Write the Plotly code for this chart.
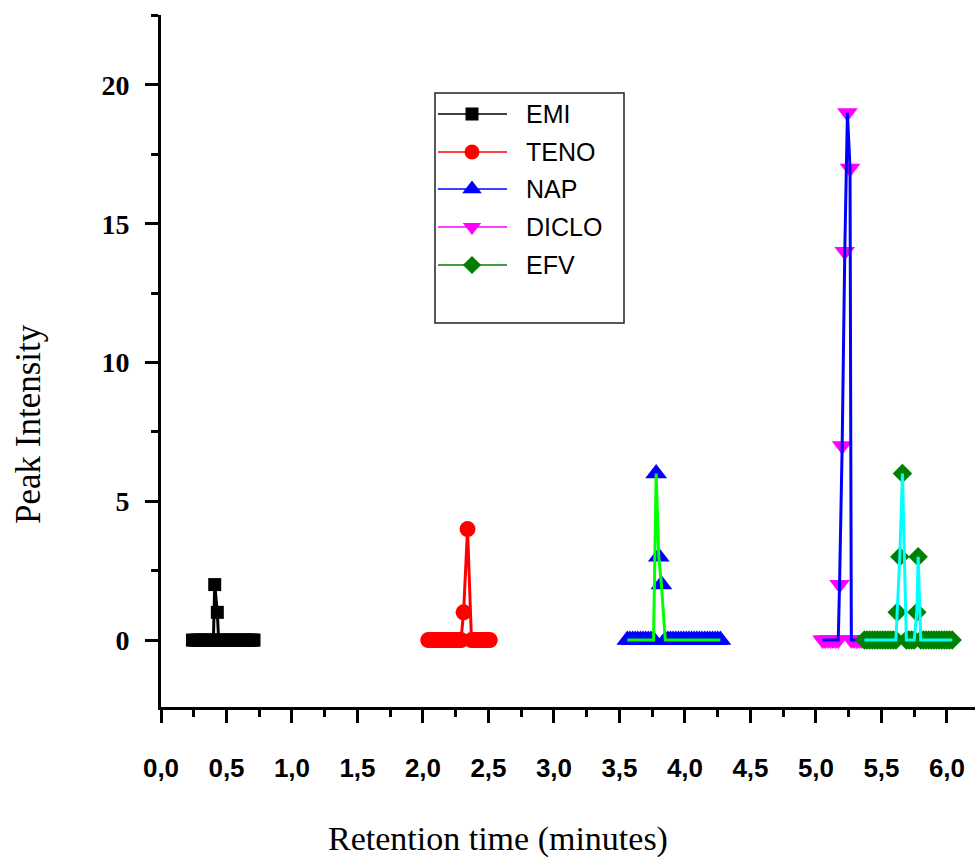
import plotly.graph_objects as go

# ---------------- data ----------------
emi_x = [0.24, 0.26, 0.28, 0.30, 0.32, 0.34, 0.36, 0.38, 0.40, 0.41, 0.43, 0.44, 0.46,
         0.48, 0.50, 0.52, 0.54, 0.56, 0.58, 0.60, 0.62, 0.64, 0.66, 0.68, 0.70, 0.71]
emi_y = [0, 0, 0, 0, 0, 0, 0, 0, 0, 2, 1, 0, 0,
         0, 0, 0, 0, 0, 0, 0, 0, 0, 0, 0, 0, 0]

teno_x = [2.04, 2.06, 2.08, 2.10, 2.12, 2.14, 2.16, 2.18, 2.20, 2.22, 2.24, 2.26, 2.28,
          2.29, 2.31, 2.34, 2.37, 2.39, 2.41, 2.43, 2.45, 2.47, 2.49, 2.51]
teno_y = [0, 0, 0, 0, 0, 0, 0, 0, 0, 0, 0, 0, 0,
          0, 1, 4, 0, 0, 0, 0, 0, 0, 0, 0]

nap_x = [3.56, 3.58, 3.60, 3.62, 3.64, 3.66, 3.68, 3.70, 3.72, 3.74, 3.76, 3.78, 3.80,
         3.82, 3.85, 3.87, 3.89, 3.91, 3.93, 3.95, 3.97, 3.99, 4.01, 4.03, 4.05, 4.07,
         4.09, 4.11, 4.13, 4.15, 4.17, 4.19, 4.21, 4.23, 4.25, 4.27]
nap_y = [0, 0, 0, 0, 0, 0, 0, 0, 0, 0, 0, 6, 3,
         2, 0, 0, 0, 0, 0, 0, 0, 0, 0, 0, 0, 0,
         0, 0, 0, 0, 0, 0, 0, 0, 0, 0]

diclo_x = [5.05, 5.07, 5.09, 5.11, 5.13, 5.15, 5.17, 5.18, 5.20, 5.22, 5.24, 5.26, 5.27,
           5.29, 5.31, 5.33, 5.35, 5.37, 5.39, 5.41, 5.43, 5.45, 5.47]
diclo_y = [0, 0, 0, 0, 0, 0, 0, 2, 7, 14, 19, 17, 0,
           0, 0, 0, 0, 0, 0, 0, 0, 0, 0]

efv_x = [5.37, 5.39, 5.41, 5.43, 5.45, 5.47, 5.49, 5.51, 5.53, 5.55, 5.57, 5.59, 5.61,
         5.62, 5.64, 5.66, 5.69, 5.71, 5.73, 5.75, 5.77, 5.78, 5.80, 5.82, 5.84, 5.86,
         5.88, 5.90, 5.92, 5.94, 5.96, 5.98, 6.00, 6.02, 6.04]
efv_y = [0, 0, 0, 0, 0, 0, 0, 0, 0, 0, 0, 0, 0,
         1, 3, 6, 0, 0, 0, 0, 1, 3, 0, 0, 0, 0,
         0, 0, 0, 0, 0, 0, 0, 0, 0]

series_names = ["EMI", "TENO", "NAP", "DICLO", "EFV"]
# ---------------- styles ----------------
marker_colors = ["#000000", "#ff0000", "#0000ff", "#ff00ff", "#008000"]
plot_line_colors = ["#000000", "#ff0000", "#00ff00", "#0000ff", "#00ffff"]
symbols = ["square", "circle", "triangle-up", "triangle-down", "diamond"]
msizes = [13, 16, 19, 18, 15]

xs = [emi_x, teno_x, nap_x, diclo_x, efv_x]
ys = [emi_y, teno_y, nap_y, diclo_y, efv_y]

fig = go.Figure()
for i in range(5):
    fig.add_trace(go.Scatter(
        x=xs[i], y=ys[i], mode="markers", showlegend=False,
        marker=dict(symbol=symbols[i], size=msizes[i], color=marker_colors[i],
                    line=dict(width=0)),
        cliponaxis=False, hoverinfo="x+y"))
    fig.add_trace(go.Scatter(
        x=xs[i], y=ys[i], mode="lines", showlegend=False,
        line=dict(color=plot_line_colors[i], width=3),
        cliponaxis=False, hoverinfo="skip"))

# ---------------- hand-drawn legend (pixel coordinate overlay) ----------------
W, H = 975, 863
ML, MR, MT, MB = 161, 0, 15, 156
leg_rows_y = [114, 152, 189, 227, 265]
leg_line_x0, leg_line_x1, leg_marker_x, leg_text_x = 438, 507, 472, 524
leg_marker_sizes = [13, 15, 17, 16, 14]


def px_to_paper(px, py):
    return (px - ML) / (W - ML - MR), (H - MB - py) / (H - MT - MB)


shapes = [dict(type="rect", xref="x2", yref="y2", x0=435, x1=624, y0=93, y1=323,
               line=dict(color="#222222", width=1.5), fillcolor="rgba(0,0,0,0)")]
annotations = []
for i, name in enumerate(series_names):
    yy = leg_rows_y[i]
    shapes.append(dict(type="line", xref="x2", yref="y2", x0=leg_line_x0, x1=leg_line_x1,
                       y0=yy, y1=yy, line=dict(color=marker_colors[i], width=1.5)))
    fig.add_trace(go.Scatter(
        x=[leg_marker_x], y=[yy], xaxis="x2", yaxis="y2", mode="markers",
        showlegend=False, hoverinfo="skip", cliponaxis=False,
        marker=dict(symbol=symbols[i], size=leg_marker_sizes[i], color=marker_colors[i],
                    line=dict(width=0))))
    annotations.append(dict(xref="x2", yref="y2", x=leg_text_x, y=yy, text=name,
                            showarrow=False, xanchor="left", yanchor="middle",
                            font=dict(family="Liberation Sans, Arial, sans-serif",
                                      size=25, color="black")))

yt_x, yt_y = px_to_paper(28, 424)
annotations.append(dict(xref="paper", yref="paper", x=yt_x, y=yt_y, text="Peak Intensity",
                        textangle=-90, showarrow=False, xanchor="center", yanchor="middle",
                        font=dict(family="Liberation Serif, Times New Roman, serif",
                                  size=35, color="black")))
xt_x, xt_y = px_to_paper(498, 839)
annotations.append(dict(xref="paper", yref="paper", x=xt_x, y=xt_y,
                        text="Retention time (minutes)",
                        showarrow=False, xanchor="center", yanchor="middle",
                        font=dict(family="Liberation Serif, Times New Roman, serif",
                                  size=34, color="black")))

fig.update_layout(
    width=W, height=H, autosize=False,
    margin=dict(l=ML, r=MR, t=MT, b=MB, pad=0),
    paper_bgcolor="white", plot_bgcolor="white",
    separators=",.",
    showlegend=False,
    shapes=shapes, annotations=annotations,
    xaxis=dict(range=[0, 6.214], showline=True, linewidth=3, linecolor="black",
               ticks="outside", ticklen=13, tickwidth=3, tickcolor="black",
               tick0=0, dtick=0.5, tickformat=".1f",
               minor=dict(ticks="outside", ticklen=7, tickwidth=3, tickcolor="black",
                          dtick=0.25, tick0=0),
               ticklabelstandoff=23,
               tickfont=dict(family="Liberation Sans, Arial, sans-serif", size=26,
                             color="black", weight="bold"),
               showgrid=False, zeroline=False),
    yaxis=dict(range=[-2.41, 22.52], showline=True, linewidth=3, linecolor="black",
               ticks="outside", ticklen=13, tickwidth=3, tickcolor="black",
               tick0=0, dtick=5,
               minor=dict(ticks="outside", ticklen=7, tickwidth=3, tickcolor="black",
                          dtick=2.5, tick0=0),
               ticklabelstandoff=10,
               tickfont=dict(family="Liberation Serif, Times New Roman, serif", size=28,
                             color="black", weight="bold"),
               showgrid=False, zeroline=False),
    xaxis2=dict(domain=[0, 1], range=[ML, W - MR], overlaying="x", anchor="y2",
                visible=False, fixedrange=True),
    yaxis2=dict(domain=[0, 1], range=[H - MB, MT], overlaying="y", anchor="x2",
                visible=False, fixedrange=True),
)

fig.write_html("out.html")
